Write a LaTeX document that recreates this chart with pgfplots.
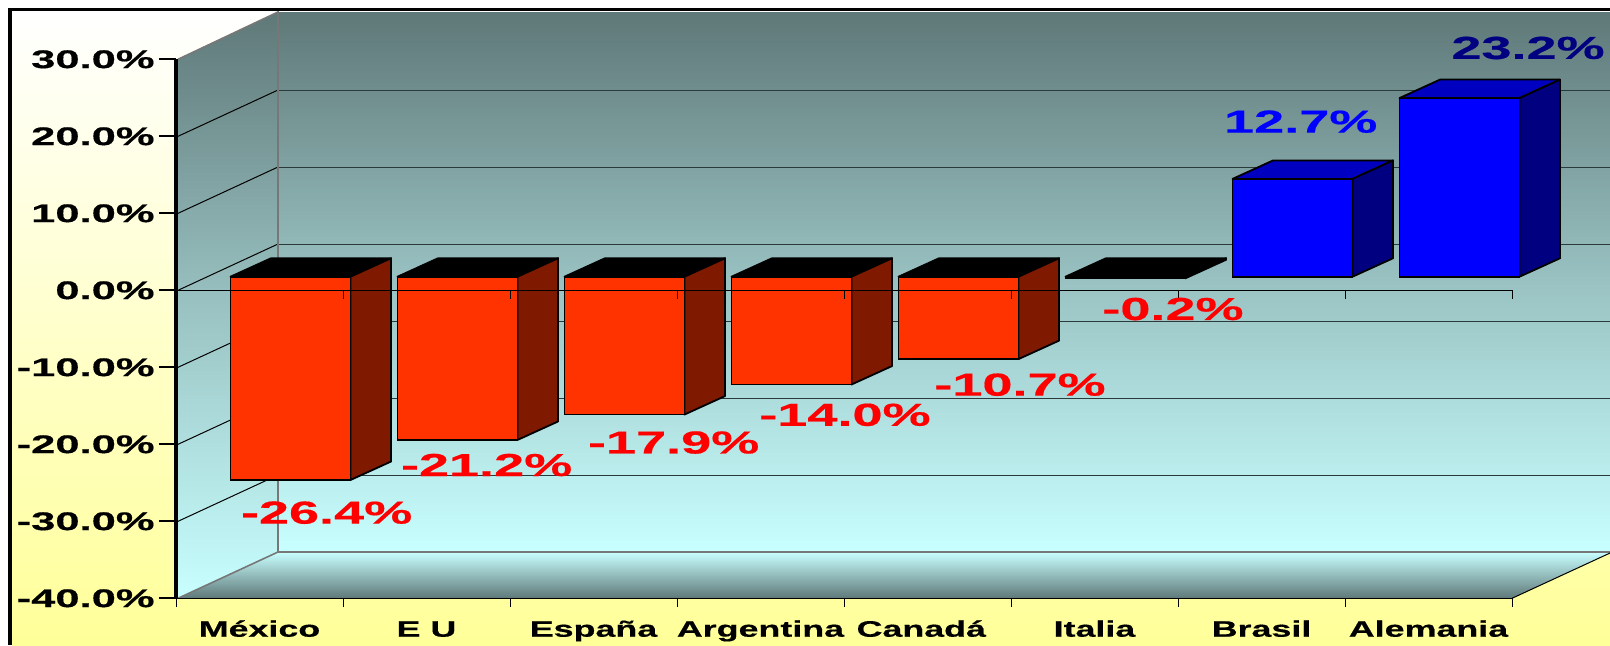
\documentclass[border=0pt]{standalone}
\usepackage{pgfplots}
\pgfplotsset{compat=1.18}
\usepackage{fontspec}
\setmainfont[FakeStretch=1.7,BoldFeatures={FakeBold=0.5}]{Liberation Sans}
\newfontfamily\catfont[FakeStretch=1.6,BoldFeatures={FakeBold=0.5}]{Liberation Sans}
\definecolor{wallA}{HTML}{5F7878}
\definecolor{wallM}{HTML}{9AC2C2}
\definecolor{wallB}{HTML}{C8FFFF}
\definecolor{pageB}{HTML}{FFFF99}
\definecolor{rFront}{HTML}{FF3300}
\definecolor{rSide}{HTML}{7F1900}
\definecolor{bFront}{HTML}{0000FF}
\definecolor{bSide}{HTML}{000080}
\definecolor{bTop}{HTML}{0000C0}
\definecolor{gridc}{HTML}{2A3A3A}
\definecolor{edgec}{HTML}{777777}
% side and top faces of one bar: category centre, value, side colour, top colour
\newcommand\cube[4]{%
  \pgfmathsetmacro\xa{#1+0.1856-0.3593}%
  \pgfmathsetmacro\xb{#1+0.1856+0.3593}%
  \pgfmathsetmacro\xc{\xb+0.243}%
  \pgfmathsetmacro\xd{\xa+0.243}%
  \pgfmathsetmacro\yt{1.766+max(#2,0)}%
  \pgfmathsetmacro\yb{1.766+min(#2,0)}%
  \pgfmathsetmacro\ytt{\yt+2.4}%
  \pgfmathsetmacro\ybb{\yb+2.4}%
  \addplot[fill=#4,draw=black,line width=0.9pt,line join=round] coordinates {(\xa,\yt)(\xb,\yt)(\xc,\ytt)(\xd,\ytt)} --cycle;
  \addplot[fill=#3,draw=black,line width=0.9pt,line join=round] coordinates {(\xb,\yt)(\xc,\ytt)(\xc,\ybb)(\xb,\yb)} --cycle;
}
\newcommand\lab[4]{\node[text=#3,font=\fontsize{15.9}{18}\selectfont\bfseries,inner sep=0pt] at (axis cs:#1,#2) {#4};}
\begin{document}
\begin{tikzpicture}
% backdrop, in reference pixels
\begin{axis}[at={(0pt,0pt)},anchor=south west,scale only axis,width=805pt,height=322.5pt,
  xmin=0,xmax=1610,ymin=0,ymax=645,y dir=reverse,hide axis]
\addplot[fill=white,draw=none] coordinates {(0,0)(1610,0)(1610,645)(0,645)} --cycle;
\addplot[top color=white,bottom color=pageB,draw=none] coordinates {(12,12)(1610,12)(1610,645)(12,645)} --cycle;
\addplot[top color=wallA,bottom color=wallB,middle color=wallM,draw=none] coordinates {(278,12)(1610,12)(1610,552)(278,552)} --cycle;
\addplot[top color=wallA,bottom color=wallB,middle color=wallM,draw=none] coordinates {(178,59.3)(278,12)(278,552)(178,598.3)} --cycle;
\addplot[top color=wallB,bottom color=wallA,draw=none] coordinates {(178,598.3)(278,552)(1610,552)(1610,553)(1512,598.3)} --cycle;
% grid on the walls
\addplot[gridc,line width=0.5pt] coordinates {(278,90)(1610,90)};
\addplot[gridc,line width=0.5pt] coordinates {(278,167)(1610,167)};
\addplot[gridc,line width=0.5pt] coordinates {(278,244)(1610,244)};
\addplot[gridc,line width=0.5pt] coordinates {(278,321)(1610,321)};
\addplot[gridc,line width=0.5pt] coordinates {(278,398)(1610,398)};
\addplot[gridc,line width=0.5pt] coordinates {(278,475)(1610,475)};
\addplot[black,line width=0.5pt] coordinates {(178,136.3)(278,90)};
\addplot[black,line width=0.5pt] coordinates {(178,213.3)(278,167)};
\addplot[black,line width=0.5pt] coordinates {(178,290.3)(278,244)};
\addplot[black,line width=0.5pt] coordinates {(178,367.3)(278,321)};
\addplot[black,line width=0.5pt] coordinates {(178,444.3)(278,398)};
\addplot[black,line width=0.5pt] coordinates {(178,521.3)(278,475)};
% wall edges
\addplot[edgec,line width=0.8pt] coordinates {(178,59.3)(278,12)(278,552)(178,598.3)};
\addplot[edgec,line width=0.8pt] coordinates {(278,552)(1610,552)};
\addplot[black,line width=0.5pt] coordinates {(1512,598.3)(1610,553)};
% frame
\addplot[black,line width=1.6pt] coordinates {(10,645)(10,9.5)(1610,9.5)};
\end{axis}
% the chart itself
\begin{axis}[at={(88pt,23.35pt)},anchor=south west,scale only axis,width=668pt,height=269.5pt,
  xmin=0,xmax=8,ymin=-40,ymax=30,clip=false,axis on top,
  axis x line=bottom,axis y line=left,axis line style={-},
  x axis line style={line width=0.75pt},y axis line style={line width=2pt},
  xtick={0.5,1.5,2.5,3.5,4.5,5.5,6.5,7.5},
  xticklabels={México,E U,España,Argentina,{\kern-6.2pt Canadá},Italia,Brasil,Alemania},
  xtick style={draw=none},
  ytick={-40,-30,-20,-10,0,10,20,30},
  yticklabels={-40.0\%,-30.0\%,-20.0\%,-10.0\%,0.0\%,10.0\%,20.0\%,30.0\%},
  ytick style={black,line width=1pt},tick align=outside,major tick length=8.5pt,minor tick num=0,
  yticklabel style={font=\fontsize{12.8}{15}\selectfont\bfseries,inner sep=0pt,xshift=-2pt},
  xticklabel style={font=\fontsize{11.2}{13}\catfont\bfseries,inner sep=0pt,text height=9.5pt,text depth=0pt,yshift=-1pt},
  unbounded coords=jump]
\cube{0.5}{-26.4}{rSide}{black}
\cube{1.5}{-21.2}{rSide}{black}
\cube{2.5}{-17.9}{rSide}{black}
\cube{3.5}{-14.0}{rSide}{black}
\cube{4.5}{-10.7}{rSide}{black}
\cube{5.5}{-0.2}{rSide}{black}
\cube{6.5}{12.7}{bSide}{bTop}
\cube{7.5}{23.2}{bSide}{bTop}
\addplot[ybar,bar shift=0pt,bar width=0.7186,fill=rFront,draw=black,line width=0.9pt,xshift=15.5pt,yshift=6.8pt]
  coordinates {(0.5,-26.4)(1.5,-21.2)(2.5,-17.9)(3.5,-14.0)(4.5,-10.7)(5.5,-0.2)};
\addplot[ybar,bar shift=0pt,bar width=0.7186,fill=bFront,draw=black,line width=0.9pt,xshift=15.5pt,yshift=6.8pt]
  coordinates {(6.5,12.7)(7.5,23.2)};
% zero line with its ticks, and the ticks of the lower axis
\addplot[black,line width=0.5pt] coordinates {(0,0)(8,0)};
\addplot[black,line width=0.5pt] coordinates {(1,0)(1,-1.17)(nan,nan)(2,0)(2,-1.17)(nan,nan)(3,0)(3,-1.17)(nan,nan)(4,0)(4,-1.17)(nan,nan)(5,0)(5,-1.17)(nan,nan)(6,0)(6,-1.17)(nan,nan)(7,0)(7,-1.17)(nan,nan)(8,0)(8,-1.17)};
\addplot[black,line width=0.5pt] coordinates {(0,-40)(0,-41.17)(nan,nan)(1,-40)(1,-41.17)(nan,nan)(2,-40)(2,-41.17)(nan,nan)(3,-40)(3,-41.17)(nan,nan)(4,-40)(4,-41.17)(nan,nan)(5,-40)(5,-41.17)(nan,nan)(6,-40)(6,-41.17)(nan,nan)(7,-40)(7,-41.17)(nan,nan)(8,-40)(8,-41.17)};
\lab{0.902}{-28.88}{red}{-26.4\%}
\lab{1.860}{-22.69}{red}{-21.2\%}
\lab{2.980}{-19.77}{red}{-17.9\%}
\lab{4.006}{-16.17}{red}{-14.0\%}
\lab{5.054}{-12.26}{red}{-10.7\%}
\lab{5.970}{-2.43}{red}{-0.2\%}
\lab{6.735}{21.9}{bFront}{12.7\%}
\lab{8.096}{31.47}{bSide}{23.2\%}
\end{axis}
\end{tikzpicture}
\end{document}
